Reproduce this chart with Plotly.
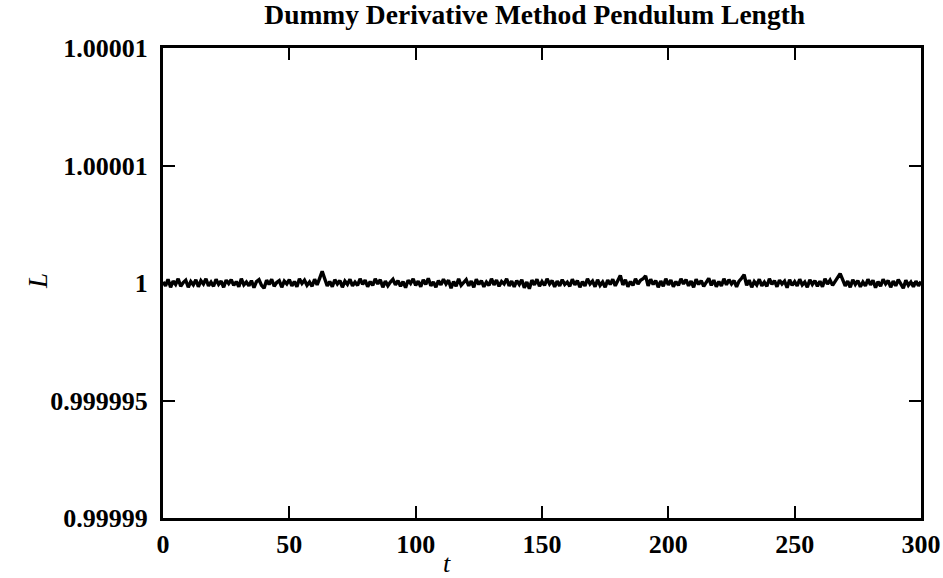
import plotly.graph_objects as go

# time samples
t = list(range(0, 301))
# deviation of L from 1, in units of 1e-8
dev = [
    4, -12, 16, -18, 8, -6, 18, -14, 2, 12, -18, 6, -8, 14, -16, 10, -4, 18, -12, 4,
    -14, 16, -6, 8, -18, 12, -2, 14, -10, 6, -16, 18, -8, 4, -12, 10, -20, 6, 14, -10,
    -22, 12, -6, 16, -14, 2, 10, -18, 8, -4, 14, -12, 6, -16, 18, -2, 12, -10, 4, -14,
    16, -8, 20, 50, 18, -12, 6, -16, 14, -4, 10, -18, 8, -6, 16, -12, 4, -10, 18, -6,
    12, -16, 6, -10, 18, -4, 14, -18, 8, -12, 4, 16, -8, 10, -14, 6, -20, 12, -2, 18,
    -10, 8, -16, 14, -6, 20, -12, 4, -18, 10, -8, 16, -4, 12, -22, 6, -14, 18, -10, 2,
    14, -12, 8, -18, 16, -6, 10, -16, 4, -10, 18, -8, 12, -14, 6, -4, 18, -12, 8, -16,
    10, -6, 14, -20, 4, -24, 12, -8, 16, -14, 6, -10, 18, -4, 10, -16, 8, -12, 14, -6,
    4, -14, 16, -8, 10, -18, 6, -12, 18, -4, 8, -16, 14, -10, 4, -18, 12, -6, 16, -12,
    10, 32, -8, 14, -16, 6, -10, 18, -4, 12, 18, 30, -12, 16, -6, 10, -18, 8, -14, 18,
    -8, 12, -16, 6, -10, 18, -4, 14, -12, 8, -18, 16, -6, 10, -14, 4, 20, -10, 12, -16,
    6, -12, 18, -8, 14, -4, 10, -16, 8, 20, 35, -10, 12, -18, 6, -8, 16, -12, 4, -14,
    18, -6, 10, -16, 12, -4, 8, -20, 14, -10, 6, -12, 16, -8, 4, -18, 14, -6, 10, -14,
    8, -16, 18, -4, 12, -10, 6, 20, 40, 14, -12, 8, -18, 14, -6, 10, -16, 4, -12, 16,
    -8, 12, -20, 6, -14, 16, -4, 10, -18, 8, -12, 14, -6, -22, 12, -10, 4, -16, 8, -12,
    6,
]
L = [1 + d * 1e-8 for d in dev]

x_ticks = [0, 50, 100, 150, 200, 250, 300]
y_ticks = [0.99999, 0.999995, 1.0, 1.000005, 1.00001]
y_ticktext = ["0.99999", "0.999995", "1", "1.00001", "1.00001"]

FONT = "Liberation Serif"

fig = go.Figure()
fig.add_trace(go.Scatter(x=t, y=L, mode="lines",
                         line=dict(color="black", width=3.4), showlegend=False))

fig.update_layout(
    width=943, height=578,
    margin=dict(l=163, r=22, t=48, b=60, autoexpand=False),
    paper_bgcolor="white", plot_bgcolor="white",
    font=dict(family=FONT, size=26, color="black"),
    title=dict(text="<b>Dummy Derivative Method Pendulum Length</b>",
               x=0.567, xanchor="center", y=0.975, yanchor="middle",
               font=dict(family=FONT, size=27.5, color="black")),
    annotations=[
        dict(text="<i>L</i>", xref="paper", yref="paper", x=-0.165, y=0.504,
             xanchor="center", yanchor="middle", showarrow=False, textangle=-90,
             font=dict(family=FONT, size=27)),
        dict(text="<i>t</i>", xref="paper", yref="paper", x=0.375, y=-0.096,
             xanchor="center", yanchor="middle", showarrow=False,
             font=dict(family=FONT, size=26)),
    ],
)
fig.update_xaxes(
    range=[0, 300], tickvals=x_ticks,
    ticktext=[f"<b>{v}</b>" for v in x_ticks],
    ticks="inside", ticklen=12, tickwidth=2, tickcolor="black",
    showline=True, linecolor="black", linewidth=3, mirror="ticks",
    showgrid=False, zeroline=False, ticklabelstandoff=1, automargin=False,
)
fig.update_yaxes(
    range=[0.99999, 1.00001], tickvals=y_ticks,
    ticktext=[f"<b>{s}</b>" for s in y_ticktext],
    ticks="inside", ticklen=12, tickwidth=2, tickcolor="black",
    showline=True, linecolor="black", linewidth=3, mirror="ticks",
    showgrid=False, zeroline=False, ticklabelstandoff=7, automargin=False,
)

fig.write_html("out.html")
